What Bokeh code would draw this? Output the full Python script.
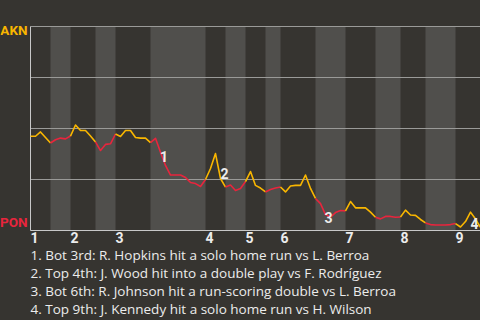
from bokeh.plotting import figure
from bokeh.core.properties import value
from bokeh.embed import file_html
from bokeh.resources import INLINE

# AKN win probability (%) after each plate appearance (index 0 = first pitch)
akn_win_pct = [46.2, 46.2, 48.3, 45.6, 42.9, 44.5, 45.3, 44.9, 46.3, 51.7,
               49.0, 49.0, 46.3, 43.4, 39.2, 42.2, 42.5, 47.3, 46.1, 49.0,
               49.0, 45.6, 45.3, 45.3, 43.1, 45.2, 38.4, 31.9, 27.2, 27.2,
               27.2, 26.0, 23.5, 23.0, 21.6, 25.0, 30.4, 37.7, 25.5, 21.3,
               22.3, 19.6, 20.6, 24.0, 28.9, 22.1, 20.8, 18.9, 20.1, 20.8,
               21.3, 18.9, 21.8, 22.1, 22.1, 27.2, 20.6, 15.7, 13.2, 7.8,
               6.6, 8.8, 9.8, 9.6, 14.2, 11.1, 11.1, 11.1, 9.0, 6.5,
               5.7, 6.9, 6.9, 6.5, 6.6, 10.0, 7.6, 7.4, 5.4, 3.7,
               2.9, 2.7, 2.7, 2.7, 2.9, 3.4, 1.7, 4.4, 9.0, 5.6, 1.5]
# plate appearances in each half-inning: top 1, bot 1, top 2, ... top 9
pa_per_half = [4, 4, 5, 4, 7, 11, 4, 4, 4, 3, 7, 6, 6, 5, 5, 6, 5]
inning_labels = ["1", "2", "3", "4", "5", "6", "7", "8", "9"]
team_top = "AKN"
team_bottom = "PON"
grid_values = [25, 50, 75, 100]
event_index = [26, 38, 59, 88]
event_numbers = ["1", "2", "3", "4"]
event_texts = [
    "1. Bot 3rd: R. Hopkins hit a solo home run vs L. Berroa",
    "2. Top 4th: J. Wood hit into a double play vs F. Rodríguez",
    "3. Bot 6th: R. Johnson hit a run-scoring double vs L. Berroa",
    "4. Top 9th: J. Kennedy hit a solo home run vs H. Wilson",
]

BG = "#363430"
BAND = "#504f4c"
GRID = "#9a9a98"
AXIS = "#c8c8c8"
YEL = "#f9b600"
RED = "#e8253d"
TXT = "#ececec"

# half-inning boundaries
bounds = [0]
for n in pa_per_half:
    bounds.append(bounds[-1] + n)
n_events = bounds[-1]

# layout: chart area spans pixels x 30..480, y 26..230 of a 480x320 canvas
W, H = 480, 320
LEFT, RIGHT, TOP, BOTTOM = 30, 480, 26, 230
kx = (RIGHT - LEFT) / n_events
ky = (BOTTOM - TOP) / 100.0
TSHIFT = 5  # text baseline correction (px)


def dx(px):
    return (px - LEFT) / kx


def dy(px):
    return (BOTTOM - px) / ky


def ty(px):
    return dy(px - TSHIFT)


p = figure(width=W, height=H, output_backend="svg", toolbar_location=None,
           x_range=(dx(0), dx(W)), y_range=(dy(H), dy(0)),
           x_axis_type=None, y_axis_type=None,
           min_border=0, min_border_left=0, min_border_right=0,
           min_border_top=0, min_border_bottom=0)
p.background_fill_color = BG
p.border_fill_color = BG
p.outline_line_color = None
p.grid.visible = False
p.styles = {"background-color": BG}

# bottom-half shading
bot_left = [bounds[k] for k in range(1, len(pa_per_half), 2)]
bot_right = [bounds[k + 1] for k in range(1, len(pa_per_half), 2)]
p.quad(left=bot_left, right=bot_right, bottom=0, top=100, fill_color=BAND, line_color=None)

# gridlines
p.segment(x0=[0] * len(grid_values), x1=[n_events] * len(grid_values),
          y0=grid_values, y1=grid_values, line_color=GRID, line_width=1)
# axis lines
p.segment(x0=[0, 0], x1=[n_events, 0], y0=[0, 0], y1=[0, 100], line_color=AXIS, line_width=1)

# win probability line, coloured by batting team
xs, ys, cols = [], [], []
for k in range(len(pa_per_half)):
    a, b = bounds[k], bounds[k + 1]
    xs.append(list(range(a, b + 1)))
    ys.append(akn_win_pct[a:b + 1])
    cols.append(YEL if k % 2 == 0 else RED)
p.multi_line(xs=xs, ys=ys, line_color=cols, line_width=1.6, line_join="round")

# event markers
ev_dx = [3.5, 4, 3, 4]
ev_dy = [9.3 - TSHIFT, -0.3 - TSHIFT, 8 - TSHIFT, 16.3 - TSHIFT]
p.text(x=event_index, y=[akn_win_pct[i] for i in event_index], text=event_numbers,
       x_offset=ev_dx, y_offset=ev_dy, text_align="center", text_baseline="alphabetic",
       text_font=value("Roboto"), text_font_style="bold", text_font_size="14px", text_color=TXT)

# inning labels
top_starts = [bounds[k] for k in range(0, len(pa_per_half), 2)]
p.text(x=top_starts, y=[ty(241.5)] * len(top_starts), text=inning_labels,
       text_align="left", text_baseline="alphabetic", text_font=value("Roboto"),
       text_font_style="bold", text_font_size="14px", text_color=TXT)

# team labels
p.text(x=[dx(27)], y=[ty(34)], text=[team_top], text_align="right", text_baseline="alphabetic",
       text_font=value("Roboto"), text_font_style="bold", text_font_size="13.5px", text_color=YEL)
p.text(x=[dx(27)], y=[ty(226)], text=[team_bottom], text_align="right", text_baseline="alphabetic",
       text_font=value("Roboto"), text_font_style="bold", text_font_size="13.5px", text_color=RED)

# event descriptions
p.text(x=[dx(30)] * len(event_texts), y=[ty(259 + 18 * j) for j in range(len(event_texts))],
       text=event_texts, text_align="left", text_baseline="alphabetic",
       text_font=value("Open Sans"), text_font_size="13.5px", text_color=TXT)

open("out.html", "w").write(file_html(p, INLINE))
